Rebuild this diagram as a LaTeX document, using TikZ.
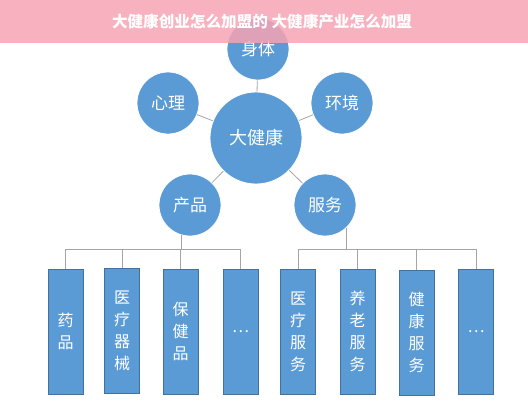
\documentclass[tikz,border=0pt]{standalone}
\usepackage{fontspec}
\setmainfont{Noto Sans CJK SC}
\definecolor{ballblue}{RGB}{91,155,213}
\definecolor{boxedge}{RGB}{65,113,156}
\definecolor{linkgray}{RGB}{165,165,165}
\definecolor{bannerpink}{RGB}{247,163,180}
\begin{document}
\begin{tikzpicture}[x=1pt,y=1pt,yscale=-1,xscale=1,
  ball/.style={circle, fill=ballblue, draw=white, line width=0.8pt, minimum size=62pt, inner sep=0pt, text=white, font=\fontsize{17}{20}\selectfont},
  hub/.style={ball, minimum size=92pt, font=\fontsize{18}{21}\selectfont},
  bar/.style={rectangle, fill=ballblue, draw=boxedge, line width=0.6pt, minimum width=35pt, minimum height=125pt, inner sep=0pt, text=white, align=center, font=\fontsize{16}{22}\selectfont},
  link/.style={draw=linkgray, line width=0.8pt}]

\useasboundingbox (0,0) rectangle (528,400);

% Circles
\node [hub] (hub) at (256,138) {大健康};
\node [ball] (body) at (258,49) {身体};
\node [ball] (mind) at (168,103) {心理};
\node [ball] (env) at (342,103) {环境};
\node [ball] (prod) at (190,205) {产品};
\node [ball] (serv) at (325,205) {服务};

% Links to the hub
\draw [link] (hub) -- (body);
\draw [link] (hub) -- (mind);
\draw [link] (hub) -- (env);
\draw [link] (hub) -- (prod);
\draw [link] (hub) -- (serv);

% Product bars
\node [bar] (b1) at (65.5,331.5) {药\\品};
\node [bar] (b2) at (122,331) {医\\疗\\器\\械};
\node [bar] (b3) at (180.5,331.5) {保\\健\\品};
\node [bar] (b4) at (240.5,331.5) {…};

% Service bars
\node [bar] (b5) at (298,331.5) {医\\疗\\服\\务};
\node [bar] (b6) at (357.5,331.5) {养\\老\\服\\务};
\node [bar] (b7) at (416.5,332.5) {健\\康\\服\\务};
\node [bar] (b8) at (476,331.5) {…};

% Left branch
\coordinate (jl) at (182,249);
\draw [link] (prod.255) -- (prod.255 |- jl);
\draw [link] (b1.north |- jl) -- (b4.north |- jl);
\foreach \b in {b1,b2,b3,b4}
  \draw [link] (\b.north |- jl) -- (\b.north);

% Right branch
\coordinate (jr) at (346,249);
\draw [link] (serv.-47) -- (serv.-47 |- jr);
\draw [link] (b5.north |- jr) -- (b8.north |- jr);
\foreach \b in {b5,b6,b7,b8}
  \draw [link] (\b.north |- jr) -- (\b.north);

% Title banner
\fill [bannerpink, fill opacity=0.85] (0,0) rectangle (528,43);
\node [text=white, font=\fontsize{15.6}{18}\selectfont\bfseries] (title) at (262,22) {大健康创业怎么加盟的 大健康产业怎么加盟};

\end{tikzpicture}
\end{document}
